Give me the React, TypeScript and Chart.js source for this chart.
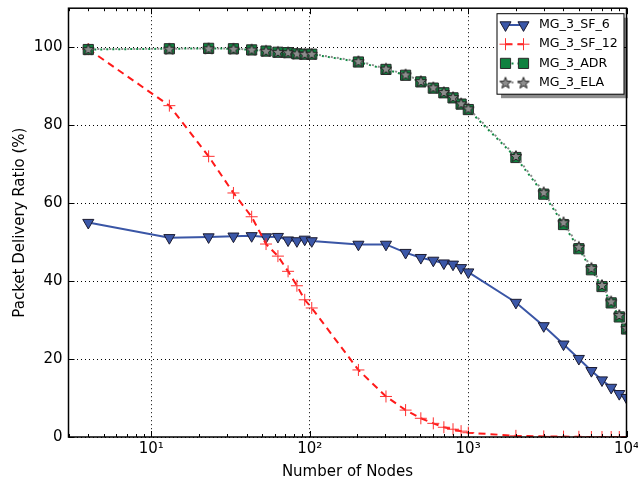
import React, { useEffect, useRef } from 'react';
import { Chart, registerables } from 'chart.js';
import { drawPoint } from 'chart.js/helpers';

Chart.register(...registerables);

// ---------- data ----------
const nodes = [4, 13, 23, 33, 43, 53, 63, 73, 83, 93, 103, 203, 303, 403, 503, 603, 703, 803, 903, 1003, 2003, 3003, 4003, 5003, 6003, 7003, 8003, 9003, 10003];

const sf6 = [55.0, 51.1, 51.3, 51.5, 51.6, 51.3, 51.4, 50.5, 50.3, 50.7, 50.3, 49.4, 49.4, 47.3, 46.0, 45.3, 44.6, 44.3, 43.4, 42.3, 34.5, 28.5, 23.8, 20.1, 17.0, 14.6, 12.7, 11.1, 10.1];

const sf12 = [99.5, 85.0, 72.0, 62.6, 56.5, 49.5, 46.4, 42.5, 38.8, 35.2, 33.1, 17.2, 10.4, 6.9, 4.8, 3.5, 2.5, 2.0, 1.5, 1.1, 0.3, 0.15, 0.1, 0.05, 0, 0, 0, 0, 0];

const adr = [99.4, 99.6, 99.7, 99.6, 99.3, 99.0, 98.7, 98.6, 98.3, 98.2, 98.2, 96.2, 94.3, 92.8, 91.1, 89.5, 88.3, 87.0, 85.4, 84.0, 71.7, 62.3, 54.5, 48.3, 42.9, 38.6, 34.4, 30.8, 27.7];

const ela = [99.5, 99.6, 99.7, 99.6, 99.4, 99.1, 98.8, 98.7, 98.4, 98.3, 98.3, 96.4, 94.5, 93.0, 91.3, 89.7, 88.5, 87.2, 85.6, 84.3, 72.1, 62.8, 55.1, 48.8, 43.4, 39.0, 34.8, 31.3, 28.0];

const seriesLabels = ['MG_3_SF_6', 'MG_3_SF_12', 'MG_3_ADR', 'MG_3_ELA'];

const xMajorTicks = [10, 100, 1000, 10000];
const xTickLabels = ['10\u00B9', '10\u00B2', '10\u00B3', '10\u2074'];
const xMinorTicks = [3, 4, 5, 6, 7, 8, 9, 20, 30, 40, 50, 60, 70, 80, 90, 200, 300, 400, 500, 600, 700, 800, 900, 2000, 3000, 4000, 5000, 6000, 7000, 8000, 9000];
const yTicks = [0, 20, 40, 60, 80, 100];

const FONT = '"DejaVu Sans", "Bitstream Vera Sans", sans-serif';

function makeStar(): HTMLCanvasElement {
  const c = document.createElement('canvas');
  c.width = 14;
  c.height = 14;
  const g = c.getContext('2d')!;
  g.beginPath();
  for (let i = 0; i < 10; i++) {
    const r = i % 2 === 0 ? 6 : 2.6;
    const a = -Math.PI / 2 + (i * Math.PI) / 5;
    const px = 7 + r * Math.cos(a);
    const py = 7.6 + r * Math.sin(a);
    if (i === 0) g.moveTo(px, py);
    else g.lineTo(px, py);
  }
  g.closePath();
  g.fillStyle = '#8c8c8c';
  g.fill();
  g.lineWidth = 1;
  g.strokeStyle = '#222';
  g.stroke();
  return c;
}

const axesDecor = {
  id: 'axesDecor',
  afterDatasetsDraw(chart: any) {
    const { ctx, chartArea: a, scales } = chart;
    const x = scales.x;
    const y = scales.y;
    ctx.save();
    ctx.strokeStyle = '#000';
    ctx.lineWidth = 1;
    ctx.setLineDash([]);
    ctx.beginPath();
    for (const v of xMajorTicks) {
      const px = Math.round(x.getPixelForValue(v)) + 0.5;
      ctx.moveTo(px, a.bottom);
      ctx.lineTo(px, a.bottom - 6);
      ctx.moveTo(px, a.top);
      ctx.lineTo(px, a.top + 6);
    }
    for (const v of xMinorTicks) {
      const px = Math.round(x.getPixelForValue(v)) + 0.5;
      ctx.moveTo(px, a.bottom);
      ctx.lineTo(px, a.bottom - 3);
      ctx.moveTo(px, a.top);
      ctx.lineTo(px, a.top + 3);
    }
    for (const v of yTicks) {
      const py = Math.round(y.getPixelForValue(v)) + 0.5;
      ctx.moveTo(a.left, py);
      ctx.lineTo(a.left + 6, py);
      ctx.moveTo(a.right, py);
      ctx.lineTo(a.right - 6, py);
    }
    ctx.stroke();
    ctx.lineWidth = 1.5;
    ctx.strokeRect(a.left, a.top, a.right - a.left, a.bottom - a.top);
    ctx.restore();
  },
};

const legendBox = {
  id: 'legendBox',
  afterDraw(chart: any) {
    const { ctx, chartArea: a } = chart;
    const bw = 127;
    const bh = 80.5;
    const bx = a.right - 2.5 - bw;
    const by = a.top + 5.5;
    ctx.save();
    ctx.fillStyle = 'rgba(0,0,0,0.45)';
    ctx.fillRect(bx + 4, by + 4, bw, bh);
    ctx.fillStyle = '#fff';
    ctx.fillRect(bx, by, bw, bh);
    ctx.strokeStyle = '#000';
    ctx.lineWidth = 1;
    ctx.strokeRect(bx, by, bw, bh);
    const x1 = bx + 8.5;
    const x2 = bx + 26.5;
    chart.data.datasets.forEach((ds: any, i: number) => {
      const yy = by + 11.3 + i * 19.2;
      ctx.save();
      ctx.strokeStyle = ds.borderColor;
      ctx.lineWidth = ds.borderWidth;
      ctx.setLineDash(ds.borderDash || []);
      ctx.beginPath();
      ctx.moveTo(x1, yy);
      ctx.lineTo(x2, yy);
      ctx.stroke();
      ctx.setLineDash([]);
      ctx.fillStyle = ds.pointBackgroundColor;
      ctx.strokeStyle = ds.pointBorderColor;
      ctx.lineWidth = ds.pointBorderWidth;
      const opts = {
        pointStyle: ds.pointStyle,
        radius: ds.pointRadius,
        rotation: ds.pointRotation || 0,
        borderWidth: ds.pointBorderWidth,
      };
      drawPoint(ctx, opts as any, x1, yy);
      drawPoint(ctx, opts as any, x2, yy);
      ctx.restore();
      ctx.fillStyle = '#000';
      ctx.font = `12.6px ${FONT}`;
      ctx.textBaseline = 'middle';
      ctx.textAlign = 'left';
      ctx.fillText(ds.label, bx + 42, yy);
    });
    ctx.restore();
  },
};

export default function App() {
  const ref = useRef<HTMLCanvasElement | null>(null);

  useEffect(() => {
    if (!ref.current) return;
    const star = makeStar();
    const pts = (arr: number[]) => nodes.map((n, i) => ({ x: n, y: arr[i] }));
    const chart = new Chart(ref.current, {
      type: 'line',
      data: {
        datasets: [
          {
            label: seriesLabels[0],
            data: pts(sf6),
            borderColor: '#3a56a6',
            borderWidth: 2,
            pointStyle: 'triangle',
            pointRotation: 180,
            pointRadius: 6.4,
            pointBackgroundColor: '#3b57a8',
            pointBorderColor: '#1b1b30',
            pointBorderWidth: 1,
            order: 4,
            clip: 0,
          } as any,
          {
            label: seriesLabels[1],
            data: pts(sf12),
            borderColor: '#ff1a1a',
            borderWidth: 2,
            borderDash: [7, 5],
            pointStyle: 'cross',
            pointRadius: 6,
            pointBackgroundColor: '#ff1a1a',
            pointBorderColor: '#ff3030',
            pointBorderWidth: 1,
            order: 3,
            clip: 0,
          },
          {
            label: seriesLabels[2],
            data: pts(adr),
            borderColor: '#138a45',
            borderWidth: 2,
            borderDash: [2, 4],
            pointStyle: 'rect',
            pointRadius: 7.2,
            pointBackgroundColor: '#10813f',
            pointBorderColor: '#2a2a2a',
            pointBorderWidth: 1,
            order: 2,
            clip: 0,
          },
          {
            label: seriesLabels[3],
            data: pts(ela),
            borderColor: '#8c8c8c',
            borderWidth: 2,
            borderDash: [2, 4],
            borderDashOffset: 3,
            pointStyle: star,
            pointRadius: 6,
            pointBackgroundColor: '#8c8c8c',
            pointBorderColor: '#222',
            pointBorderWidth: 1,
            order: 1,
            clip: 0,
          } as any,
        ],
      },
      options: {
        responsive: false,
        animation: false,
        events: [],
        layout: { padding: { left: 0, top: 7, right: 11.5, bottom: 0 } },
        elements: { line: { tension: 0 } },
        plugins: {
          legend: { display: false },
          tooltip: { enabled: false },
        },
        scales: {
          x: {
            type: 'logarithmic',
            min: 3,
            max: 10000,
            afterBuildTicks: (s: any) => {
              s.ticks = xMajorTicks.map((v) => ({ value: v }));
            },
            afterFit: (s: any) => {
              s.height = 50;
              s.paddingLeft = 0;
              s.paddingRight = 0;
            },
            ticks: {
              callback: (_v: any, i: number) => xTickLabels[i],
              font: { family: FONT, size: 15 },
              color: '#000',
              padding: 3,
              maxRotation: 0,
              autoSkip: false,
            },
            grid: { color: '#000', lineWidth: 1, drawTicks: false },
            border: { display: false, dash: [1, 3] },
            title: {
              display: true,
              text: 'Number of Nodes',
              color: '#000',
              font: { family: FONT, size: 15 },
              padding: { top: 0, bottom: 6 },
            },
          },
          y: {
            type: 'linear',
            min: 0,
            max: 110,
            afterBuildTicks: (s: any) => {
              s.ticks = yTicks.map((v) => ({ value: v }));
            },
            afterFit: (s: any) => {
              s.width = 68.5;
              s.paddingTop = 0;
              s.paddingBottom = 0;
            },
            ticks: {
              callback: (v: any) => String(v),
              font: { family: FONT, size: 15 },
              color: '#000',
              padding: 6,
            },
            grid: { color: '#000', lineWidth: 1, drawTicks: false },
            border: { display: false, dash: [1, 3] },
            title: {
              display: true,
              text: 'Packet Delivery Ratio (%)',
              color: '#000',
              font: { family: FONT, size: 15 },
              padding: { top: 11, bottom: 0 },
            },
          },
        },
      },
      plugins: [axesDecor, legendBox],
    });
    return () => chart.destroy();
  }, []);

  return (
    <div style={{ position: 'absolute', left: 0, top: 0, width: 638, height: 487, background: '#fff' }}>
      <canvas ref={ref} width={638} height={487} />
    </div>
  );
}
